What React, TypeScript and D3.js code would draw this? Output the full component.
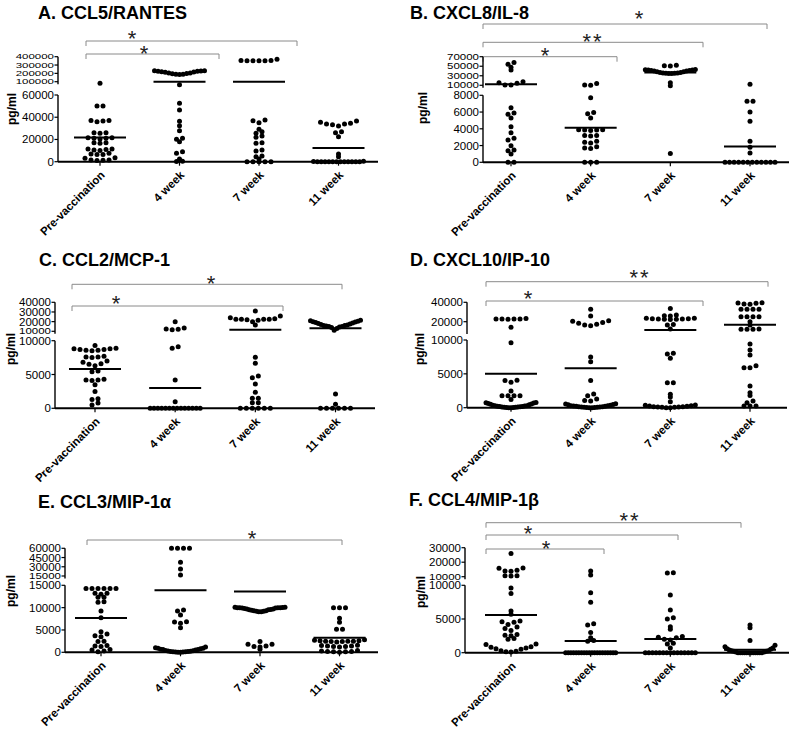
import React from "react";
import * as d3 from "d3";

const categories = ["Pre-vaccination", "4 week", "7 week", "11 week"];

// A. CCL5/RANTES (pg/ml)
const ccl5Pre = [95000, 50000, 50000, 37000, 36500, 37000, 36000, 26000, 25500, 26000, 21500, 21000, 21000, 21500, 20500, 17000, 16500, 17000, 11500, 10500, 10000, 11000, 11500, 7000, 6500, 6500, 7500, 3500, 3000, 1500, 1000, 1500, 1200];
const ccl5Wk4 = [230000, 228000, 225000, 220000, 212000, 205000, 198000, 190000, 186000, 188000, 195000, 205000, 215000, 225000, 230000, 91000, 52500, 46500, 36300, 32400, 27900, 21000, 20100, 18000, 9000, 7500, 2500, 300, 200];
const ccl5Wk7 = [370000, 355000, 355000, 350000, 350000, 350000, 350000, 37500, 36900, 35100, 29100, 27000, 25500, 23100, 21900, 17100, 16500, 10500, 9600, 5100, 4500, 2400, 0, 0, 0, 0, 0];
const ccl5Wk11 = [35500, 33900, 33300, 32100, 33900, 34500, 36600, 27000, 26100, 22500, 6900, 4500, 0, 0, 0, 0, 0, 0, 0, 0, 0, 0, 0, 0, 200, 300];
const ccl5Means = [21800, 100500, 99500, 12300];
const ccl5Upper = [100000, 200000, 300000, 400000];
const ccl5Lower = [0, 20000, 40000, 60000];
const ccl5Tests = [{ vs: "7 week", p: "*" }, { vs: "4 week", p: "*" }];

// B. CXCL8/IL-8
const cxcl8Pre = [58000, 54000, 47800, 42000, 17600, 15500, 14200, 10600, 10600, 6500, 5900, 5750, 5300, 4250, 3530, 2870, 2660, 1980, 1470, 1390, 990, 0, 0];
const cxcl8Wk4 = [14000, 10600, 10000, 7700, 5950, 5800, 5300, 3900, 3850, 3800, 3850, 3900, 3200, 3150, 3200, 2400, 2300, 2500, 1700, 1650, 1850, 0, 0, 0];
const cxcl8Wk7 = [52000, 51000, 50500, 43000, 42500, 42000, 41000, 40000, 38500, 37000, 36000, 35500, 35000, 35000, 35500, 36000, 37000, 38500, 40000, 41000, 42000, 15500, 9900, 1050];
const cxcl8Wk11 = [12100, 7300, 7300, 6000, 4900, 2500, 1800, 1100, 0, 0, 0, 0, 0, 0, 0, 0, 0, 0, 0, 0];
const cxcl8Means = [12300, 4140, 37000, 1900];
const cxcl8Upper = [10000, 30000, 50000, 70000];
const cxcl8Lower = [0, 2000, 4000, 6000, 8000];
const cxcl8Tests = [{ vs: "11 week", p: "*" }, { vs: "7 week", p: "**" }, { vs: "4 week", p: "*" }];

// C. CCL2/MCP-1
const ccl2Pre = [9300, 8900, 8800, 8700, 8600, 8500, 8600, 8700, 8800, 7700, 7600, 7500, 7600, 7000, 6800, 6500, 6600, 6300, 5500, 5400, 4300, 4200, 4100, 4200, 3500, 2500, 1400, 1300, 800, 500];
const ccl2Wk4 = [20000, 13500, 12500, 12000, 11500, 9100, 8900, 4200, 980, 0, 0, 0, 0, 0, 0, 0, 0, 0, 0, 0, 0, 0, 0];
const ccl2Wk7 = [31000, 25800, 24000, 22400, 22400, 23000, 21500, 22000, 22500, 22400, 20000, 16500, 7540, 6660, 4780, 4530, 3600, 2370, 1480, 1480, 830, 830, 0, 0, 0, 0, 0, 0];
const ccl2Wk11 = [21500, 21000, 20500, 20000, 19500, 19000, 18500, 18000, 17500, 17000, 16500, 16000, 16000, 15500, 15000, 15000, 14500, 14000, 13000, 11000, 2120, 590, 0, 0, 0, 0, 0, 0];
const ccl2Means = [5800, 3000, 11500, 13100];
const ccl2Upper = [10000, 20000, 30000, 40000];
const ccl2Lower = [0, 5000, 10000];
const ccl2Tests = [{ vs: "11 week", p: "*" }, { vs: "7 week", p: "*" }];

// D. CXCL10/IP-10
const cxcl10Pre = [23200, 22800, 22800, 22800, 22800, 22500, 14200, 9600, 4050, 4000, 3750, 2460, 1770, 1770, 1770, 1770, 1200, 750, 720, 680, 620, 560, 500, 430, 360, 300, 240, 180, 130, 90, 50, 20, 0, 0, 30, 70, 110, 160, 220, 280];
const cxcl10Wk4 = [32800, 25900, 21000, 20500, 19200, 18400, 17500, 16600, 15800, 7500, 6800, 4000, 2020, 1780, 1280, 1080, 990, 600, 550, 480, 420, 360, 300, 250, 200, 150, 100, 60, 30, 0, 0, 20, 50, 90, 140, 200, 280];
const cxcl10Wk7 = [33500, 27000, 26200, 26000, 23500, 23000, 22800, 22500, 22200, 22500, 22800, 23000, 23500, 17000, 16600, 12500, 8040, 7940, 7300, 3700, 3700, 1970, 1580, 890, 400, 350, 300, 250, 200, 150, 100, 50, 0, 0, 50, 100, 150];
const cxcl10Wk11 = [39600, 39400, 39000, 38200, 38000, 32800, 32800, 32800, 32800, 25200, 25200, 25200, 25200, 20000, 16600, 12500, 12200, 12200, 12200, 9400, 8520, 7800, 6200, 5900, 5900, 3200, 2200, 1800, 990, 740, 250, 250, 250];
const cxcl10Means = [5000, 5820, 11400, 16800];
const cxcl10Upper = [20000, 40000];
const cxcl10Lower = [0, 5000, 10000];
const cxcl10Tests = [{ vs: "11 week", p: "**" }, { vs: "7 week", p: "*" }];

// E. CCL3/MIP-1α
const ccl3Pre = [14300, 14300, 14300, 14300, 14300, 14300, 13200, 13200, 13000, 12300, 12300, 11300, 11200, 9250, 7750, 4600, 4100, 3500, 3700, 2500, 2400, 1500, 1400, 1300, 500, 600, 300, 100];
const ccl3Wk4 = [60000, 60000, 60000, 60000, 37300, 26400, 16600, 9470, 9250, 8350, 6850, 6500, 6800, 5500, 1200, 1000, 900, 800, 700, 600, 500, 400, 300, 250, 200, 150, 100, 50, 0, 0, 80, 200, 350, 600, 900];
const ccl3Wk7 = [10100, 10050, 10000, 10000, 9950, 9900, 9800, 9700, 9600, 9500, 9400, 9300, 9200, 9100, 9100, 9200, 9300, 9500, 9700, 9900, 10000, 10100, 2400, 1800, 1800, 1400, 1300, 1200, 670];
const ccl3Wk11 = [10000, 10000, 10000, 7620, 6720, 5150, 5150, 2500, 2600, 2400, 2500, 2700, 2300, 2600, 2400, 2500, 2800, 1400, 1300, 1500, 1200, 1600, 1400, 1300, 300, 200, 100, 0, 100, 200, 400];
const ccl3Means = [7700, 13900, 13600, 3270];
const ccl3Upper = [15000, 30000, 45000, 60000];
const ccl3Lower = [0, 5000, 10000, 15000];
const ccl3Tests = [{ vs: "11 week", p: "*" }];

// F. CCL4/MIP-1β
const ccl4Pre = [26000, 16000, 15800, 14500, 14000, 13800, 10700, 10500, 10700, 9600, 8800, 6200, 5700, 4700, 4600, 4500, 4200, 3800, 3600, 3300, 2700, 2600, 2500, 2100, 2000, 1300, 1200, 900, 800, 700, 600, 500, 300, 200, 150, 100];
const ccl4Wk4 = [14000, 11200, 8900, 7500, 4300, 4100, 3000, 2200, 1800, 1700, 0, 0, 0, 0, 0, 0, 0, 0, 0, 0, 0, 0, 0, 0, 0, 0, 0, 0, 0, 0];
const ccl4Wk7 = [12800, 12500, 8560, 6340, 5200, 5000, 3860, 3470, 2400, 2300, 2200, 2000, 1900, 1400, 1300, 700, 0, 0, 0, 0, 0, 0, 0, 0, 0, 0, 0, 0, 0, 0, 0];
const ccl4Wk11 = [4100, 3700, 1800, 1100, 900, 700, 600, 500, 400, 300, 300, 200, 200, 100, 100, 0, 0, 0, 0, 0, 0, 0, 0, 0, 0, 0, 0];
const ccl4Means = [5600, 1750, 2050, 450];
const ccl4Upper = [10000, 20000, 30000];
const ccl4Lower = [0, 5000, 10000];
const ccl4Tests = [{ vs: "11 week", p: "**" }, { vs: "7 week", p: "*" }, { vs: "4 week", p: "*" }];

const FONT = "'Liberation Sans', Arial, sans-serif";

// page layout of each panel (pixels)
const panels = [
  {
    title: "A. CCL5/RANTES", titleX: 38, titleY: 18.5,
    series: [ccl5Pre, ccl5Wk4, ccl5Wk7, ccl5Wk11], means: ccl5Means,
    domain: [0, 60000, 100000, 400000], yPix: [161.7, 95, 81.7, 56.7],
    upper: ccl5Upper, lower: ccl5Lower, tests: ccl5Tests,
    axisX: 58, endX: 378, cat: [100, 338.5], ylab: [16, 109],
    brackets: [{ x1: 86, x2: 297, y: 41, sx: 132, sy: 33 }, { x1: 86, x2: 219, y: 54, sx: 144, sy: 48 }],
  },
  {
    title: "B. CXCL8/IL-8", titleX: 410, titleY: 18.5,
    series: [cxcl8Pre, cxcl8Wk4, cxcl8Wk7, cxcl8Wk11], means: cxcl8Means,
    domain: [0, 8000, 10000, 70000], yPix: [162.3, 95.3, 85.3, 56.7],
    upper: cxcl8Upper, lower: cxcl8Lower, tests: cxcl8Tests,
    axisX: 483, endX: 789, cat: [511, 750], ylab: [427, 108],
    brackets: [{ x1: 483, x2: 767, y: 24, sx: 639, sy: 13 }, { x1: 483, x2: 703, y: 42.3, sx: 593, sy: 36 }, { x1: 483, x2: 617, y: 56.7, sx: 545, sy: 50 }],
  },
  {
    title: "C. CCL2/MCP-1", titleX: 39, titleY: 266,
    series: [ccl2Pre, ccl2Wk4, ccl2Wk7, ccl2Wk11], means: ccl2Means,
    domain: [0, 10000, 10000.01, 40000], yPix: [408.3, 340.7, 331.3, 302.3],
    upper: ccl2Upper, lower: ccl2Lower, tests: ccl2Tests,
    axisX: 55, endX: 375, cat: [95, 335.5], ylab: [15, 349],
    brackets: [{ x1: 72, x2: 342, y: 284.3, sx: 211, sy: 278 }, { x1: 72, x2: 283, y: 306, sx: 116, sy: 298 }],
  },
  {
    title: "D. CXCL10/IP-10", titleX: 410, titleY: 266,
    series: [cxcl10Pre, cxcl10Wk4, cxcl10Wk7, cxcl10Wk11], means: cxcl10Means,
    domain: [0, 10000, 10000.01, 40000], yPix: [407.7, 340, 331.4, 302.3],
    upper: cxcl10Upper, lower: cxcl10Lower, tests: cxcl10Tests,
    axisX: 467, endX: 787, cat: [511, 750], ylab: [424, 349],
    brackets: [{ x1: 486, x2: 768, y: 281.7, sx: 640, sy: 272 }, { x1: 486, x2: 703, y: 301, sx: 528, sy: 293 }],
  },
  {
    title: "E. CCL3/MIP-1α", titleX: 38, titleY: 507.5,
    series: [ccl3Pre, ccl3Wk4, ccl3Wk7, ccl3Wk11], means: ccl3Means,
    domain: [0, 15000, 15000.01, 60000], yPix: [652.3, 585.3, 576, 548.3],
    upper: ccl3Upper, lower: ccl3Lower, tests: ccl3Tests,
    axisX: 65, endX: 378, cat: [101, 339.5], ylab: [15, 591],
    brackets: [{ x1: 87, x2: 342, y: 540, sx: 252, sy: 533 }],
  },
  {
    title: "F. CCL4/MIP-1β", titleX: 409, titleY: 506,
    series: [ccl4Pre, ccl4Wk4, ccl4Wk7, ccl4Wk11], means: ccl4Means,
    domain: [0, 10000, 10000.01, 30000], yPix: [652.7, 585.3, 576.7, 547.7],
    upper: ccl4Upper, lower: ccl4Lower, tests: ccl4Tests,
    axisX: 465, endX: 789, cat: [511, 750], ylab: [425, 592],
    brackets: [{ x1: 486, x2: 741, y: 522.7, sx: 630, sy: 515 }, { x1: 486, x2: 678, y: 535, sx: 528, sy: 528 }, { x1: 486, x2: 604, y: 549, sx: 546, sy: 543 }],
  },
];

// GraphPad-like column scatter: group near-equal values into rows,
// lowest values go in the middle of each row
function columnScatter(values, y, spacing = 6, maxWidth = 50, gap = 2.2) {
  const pts = values.map((v) => ({ v, py: y(v), dx: 0 })).sort((a, b) => a.v - b.v);
  const rows = [];
  let cur = [];
  pts.forEach((p, i) => {
    if (i > 0 && Math.abs(p.py - pts[i - 1].py) > gap) {
      rows.push(cur);
      cur = [];
    }
    cur.push(p);
  });
  if (cur.length) rows.push(cur);
  rows.forEach((row) => {
    const n = row.length;
    const s = n > 1 ? Math.min(spacing, maxWidth / (n - 1)) : 0;
    const slots = d3.range(n).map((k) => (k - (n - 1) / 2) * s);
    slots.sort((a, b) => Math.abs(a) - Math.abs(b) || a - b);
    row.forEach((p, k) => (p.dx = slots[k]));
  });
  return pts;
}

const Panel = ({ p }) => {
  const y = d3.scaleLinear().domain(p.domain).range(p.yPix);
  const x = d3.scalePoint().domain(categories).range(p.cat);
  const base = p.yPix[0];
  const ax = p.axisX;
  const fmt = d3.format("d");

  // upper segment labels are squeezed vertically when crowded
  const upGap = p.upper.length > 1 ? Math.abs(y(p.upper[1]) - y(p.upper[0])) : 20;
  const squeeze = Math.min(1, upGap / 13);
  const breakGap = p.yPix[1] - p.yPix[2];

  const tickLabel = (v, ty, sq, key) => (
    <g key={key}>
      <line x1={ax - 3.5} x2={ax} y1={ty} y2={ty} stroke="#000" strokeWidth={1.2} />
      <text transform={`translate(${ax - 4},${ty}) scale(1,${sq})`} dy="0.35em" textAnchor="end" fontFamily={FONT} fontSize={11.5}>{fmt(v)}</text>
    </g>
  );

  return (
    <g>
      <text x={p.titleX} y={p.titleY} fontFamily={FONT} fontWeight="bold" fontSize={18}>{p.title}</text>

      {/* significance brackets */}
      {p.tests.map((t, i) => {
        const b = p.brackets[i];
        return (
          <g key={"b" + i}>
            <path d={`M${b.x1},${b.y + 5}V${b.y}H${b.x2}V${b.y + 5}`} fill="none" stroke="#8a8a8a" strokeWidth={1} />
            <text x={b.sx} y={b.sy + 12.5} textAnchor="middle" fontFamily={FONT} fontSize={22} letterSpacing={t.p.length > 1 ? 2 : 0} fill="#222">{t.p}</text>
          </g>
        );
      })}

      {/* y axis, broken in two segments */}
      <line x1={ax} x2={ax} y1={base} y2={p.yPix[1]} stroke="#000" strokeWidth={1.4} />
      <line x1={ax} x2={ax} y1={p.yPix[2] + 2.5} y2={p.yPix[3]} stroke="#000" strokeWidth={1.4} />
      {p.lower.map((v, i) => tickLabel(v, y(v), 1, "l" + i))}
      {p.upper.map((v, i) => {
        const atBreak = v <= p.domain[2];
        const sq = atBreak ? Math.min(squeeze, breakGap / 12) : squeeze;
        return tickLabel(v, y(atBreak ? p.domain[2] : v), sq, "u" + i);
      })}
      <text transform={`translate(${p.ylab[0]},${p.ylab[1]}) rotate(-90)`} textAnchor="middle" fontFamily={FONT} fontWeight="bold" fontSize={12}>pg/ml</text>

      {/* x axis */}
      <line x1={ax} x2={p.endX} y1={base} y2={base} stroke="#000" strokeWidth={2} />
      {categories.map((c) => (
        <g key={c}>
          <line x1={x(c)} x2={x(c)} y1={base} y2={base + 4} stroke="#000" strokeWidth={1.2} />
          <text transform={`translate(${x(c) + 5.5},${base + 14}) rotate(-45)`} textAnchor="end" fontFamily={FONT} fontWeight="bold" fontSize={11.5}>{c}</text>
        </g>
      ))}

      {/* dots and mean lines */}
      {p.series.map((vals, ci) => {
        const cx = x(categories[ci]);
        const pts = columnScatter(vals, y);
        return (
          <g key={"s" + ci}>
            {pts.map((d, k) => (
              <circle key={k} cx={cx + d.dx} cy={d.py} r={2.5} fill="#000" />
            ))}
            <line x1={cx - 26} x2={cx + 26} y1={y(p.means[ci])} y2={y(p.means[ci])} stroke="#000" strokeWidth={2} />
          </g>
        );
      })}
    </g>
  );
};

export default function App() {
  return (
    <svg width={795} height={730} style={{ position: "absolute", left: 0, top: 0, background: "#fff" }}>
      {panels.map((p) => (
        <Panel key={p.title} p={p} />
      ))}
    </svg>
  );
}
